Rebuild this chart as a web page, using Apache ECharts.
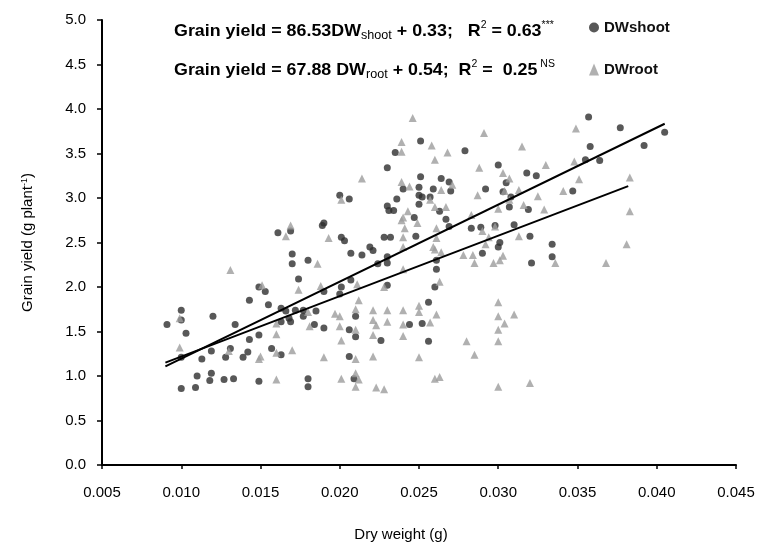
<!DOCTYPE html>
<html>
<head>
<meta charset="utf-8">
<script src="https://cdn.jsdelivr.net/npm/echarts@6/dist/echarts.min.js"></script>
<style>html,body{margin:0;padding:0;background:#fff;}#c{width:759px;height:550px;}</style>
</head>
<body>
<div id="c"></div>
<script>
// Tick values
const xTicks = [0.005, 0.010, 0.015, 0.020, 0.025, 0.030, 0.035, 0.040, 0.045];
const yTicks = [0.0, 0.5, 1.0, 1.5, 2.0, 2.5, 3.0, 3.5, 4.0, 4.5, 5.0];

// DW shoot vs grain yield
const shoot = [
[0.0091,1.58],[0.0100,1.74],[0.0100,1.63],[0.0103,1.48],[0.0100,1.21],[0.0120,1.67],[0.0134,1.58],[0.0113,1.19],[0.0119,1.28],[0.0128,1.21],[0.0139,1.21],[0.0142,1.27],[0.0143,1.41],[0.0143,1.85],[0.0149,2.00],[0.0149,1.46],[0.0149,0.94],[0.0110,1.00],[0.0100,0.86],[0.0109,0.87],[0.0119,1.03],[0.0118,0.95],[0.0127,0.96],[0.0133,0.97],[0.0131,1.31],
[0.0251,3.64],[0.0235,3.51],[0.0230,3.34],[0.0240,3.10],[0.0250,3.12],[0.0251,3.24],[0.0250,3.03],[0.0200,3.03],[0.0206,2.99],[0.0236,2.99],[0.0250,2.93],[0.0230,2.91],[0.0231,2.86],[0.0234,2.86],[0.0247,2.78],[0.0169,2.63],[0.0161,2.61],[0.0190,2.72],[0.0189,2.69],[0.0201,2.56],[0.0203,2.52],[0.0228,2.56],[0.0232,2.56],[0.0248,2.57],[0.0219,2.45],[0.0221,2.41],[0.0170,2.37],[0.0170,2.26],[0.0180,2.30],[0.0207,2.38],[0.0214,2.36],[0.0230,2.34],[0.0224,2.26],[0.0230,2.27],[0.0174,2.09],
[0.0357,3.91],[0.0377,3.79],[0.0405,3.74],[0.0279,3.53],[0.0358,3.58],[0.0392,3.59],[0.0300,3.37],[0.0355,3.43],[0.0364,3.42],[0.0318,3.28],[0.0324,3.25],[0.0264,3.22],[0.0269,3.18],[0.0259,3.10],[0.0270,3.08],[0.0292,3.10],[0.0305,3.17],[0.0303,3.07],[0.0347,3.08],[0.0252,3.01],[0.0257,3.01],[0.0308,3.01],[0.0263,2.85],[0.0267,2.76],[0.0307,2.90],[0.0319,2.87],[0.0269,2.68],[0.0283,2.66],[0.0289,2.67],[0.0298,2.69],[0.0310,2.70],[0.0320,2.57],[0.0301,2.50],[0.0300,2.45],[0.0334,2.48],[0.0334,2.34],[0.0290,2.38],[0.0321,2.27],[0.0261,2.30],[0.0261,2.20],
[0.0260,2.00],[0.0256,1.83],[0.0244,1.58],[0.0252,1.59],[0.0256,1.39],
[0.0153,1.95],[0.0190,1.95],[0.0201,2.00],[0.0200,1.92],[0.0207,2.08],[0.0230,2.02],[0.0155,1.80],[0.0163,1.76],[0.0166,1.73],[0.0168,1.65],[0.0169,1.61],[0.0163,1.61],[0.0172,1.74],[0.0177,1.67],[0.0177,1.74],[0.0185,1.73],[0.0184,1.58],[0.0190,1.54],[0.0210,1.67],[0.0206,1.52],[0.0210,1.44],[0.0226,1.40],[0.0157,1.31],[0.0163,1.24],[0.0206,1.22],[0.0180,0.97],[0.0180,0.88],[0.0209,0.97]
];

// DW root vs grain yield
const root = [
[0.0099,1.65],[0.0099,1.32],[0.0131,2.19],[0.0130,1.28],[0.0149,1.19],
[0.0246,3.90],[0.0239,3.63],[0.0239,3.52],[0.0214,3.22],[0.0239,3.18],[0.0244,3.13],[0.0201,2.98],[0.0243,2.85],[0.0240,2.78],[0.0239,2.75],[0.0249,2.72],[0.0169,2.69],[0.0166,2.57],[0.0193,2.55],[0.0240,2.56],[0.0240,2.45],[0.0186,2.26],[0.0240,2.20],
[0.0349,3.78],[0.0291,3.73],[0.0258,3.59],[0.0268,3.51],[0.0315,3.58],[0.0260,3.43],[0.0288,3.34],[0.0330,3.37],[0.0348,3.41],[0.0303,3.28],[0.0307,3.22],[0.0351,3.21],[0.0383,3.23],[0.0264,3.09],[0.0271,3.15],[0.0287,3.03],[0.0304,3.08],[0.0313,3.09],[0.0325,3.02],[0.0341,3.08],[0.0257,2.98],[0.0307,2.98],[0.0260,2.90],[0.0267,2.90],[0.0283,2.81],[0.0300,2.88],[0.0316,2.92],[0.0329,2.87],[0.0383,2.85],[0.0241,2.66],[0.0261,2.66],[0.0261,2.55],[0.0259,2.45],[0.0260,2.42],[0.0264,2.39],[0.0290,2.63],[0.0298,2.68],[0.0313,2.57],[0.0294,2.56],[0.0292,2.48],[0.0381,2.48],[0.0284,2.36],[0.0278,2.36],[0.0303,2.35],[0.0301,2.30],[0.0285,2.27],[0.0297,2.27],[0.0336,2.27],[0.0368,2.27],
[0.0263,2.06],[0.0240,1.74],[0.0250,1.79],[0.0250,1.72],[0.0261,1.69],[0.0300,1.83],[0.0300,1.67],[0.0310,1.69],[0.0304,1.59],[0.0300,1.52],[0.0300,1.39],[0.0240,1.58],[0.0257,1.60],[0.0240,1.45],[0.0280,1.39],[0.0285,1.24],[0.0250,1.21],[0.0260,0.97],[0.0263,0.99],[0.0300,0.88],[0.0320,0.92],
[0.0151,2.02],[0.0174,1.97],[0.0188,2.01],[0.0211,2.03],[0.0212,1.85],[0.0228,2.00],[0.0160,1.59],[0.0180,1.72],[0.0181,1.56],[0.0197,1.70],[0.0200,1.67],[0.0210,1.75],[0.0200,1.56],[0.0201,1.40],[0.0210,1.52],[0.0221,1.74],[0.0221,1.63],[0.0223,1.57],[0.0221,1.46],[0.0230,1.74],[0.0230,1.61],[0.0160,1.47],[0.0150,1.22],[0.0160,1.26],[0.0170,1.29],[0.0190,1.21],[0.0210,1.19],[0.0221,1.22],[0.0160,0.96],[0.0201,0.97],[0.0210,1.03],[0.0212,0.96],[0.0210,0.88],[0.0223,0.87],[0.0228,0.85]
];

// Trend line endpoints
const shootFit = [[0.0090,1.109],[0.0405,3.834]];
const rootFit = [[0.0090,1.151],[0.0382,3.133]];

const FONT = '"Liberation Sans", Arial, sans-serif';
const chart = echarts.init(document.getElementById('c'));

const eqRich = {
  n: {fontSize: 17, fontWeight: 'bold', fontFamily: FONT, color: '#111', lineHeight: 22},
  sub: {fontSize: 12, fontFamily: FONT, color: '#111', lineHeight: 22, verticalAlign: 'bottom', padding: [8,0,0,0]},
  sup: {fontSize: 10, fontFamily: FONT, color: '#111', lineHeight: 22, verticalAlign: 'top', padding: [0,0,6,0]}
};

chart.setOption({
  backgroundColor: '#fff',
  animation: false,
  grid: {left: 102, right: 23, top: 20, bottom: 85},
  xAxis: {
    type: 'value', min: xTicks[0], max: xTicks[xTicks.length-1], interval: 0.005,
    name: 'Dry weight (g)', nameLocation: 'middle', nameGap: 62,
    nameTextStyle: {fontFamily: FONT, fontSize: 15, color: '#000', padding: [0, 36, 0, 0]},
    axisLine: {show: true, lineStyle: {color: '#000', width: 2}},
    axisTick: {show: true, inside: false, length: 4, lineStyle: {color: '#000', width: 1.5}},
    axisLabel: {fontFamily: FONT, fontSize: 15, color: '#000', margin: 20, formatter: v => v.toFixed(3)},
    splitLine: {show: false}
  },
  yAxis: {
    type: 'value', min: yTicks[0], max: yTicks[yTicks.length-1], interval: 0.5,
    name: 'Grain yield (g plant{sup|-1})', nameLocation: 'middle', nameGap: 67, nameRotate: 90,
    nameTextStyle: {fontFamily: FONT, fontSize: 15, color: '#000',
      rich: {sup: {fontSize: 9, fontFamily: FONT, color: '#000', verticalAlign: 'top', padding: [0,0,5,0]}}},
    axisLine: {show: true, lineStyle: {color: '#000', width: 2}},
    axisTick: {show: true, inside: false, length: 5, lineStyle: {color: '#000', width: 1.5}},
    axisLabel: {fontFamily: FONT, fontSize: 15, color: '#000', margin: 16, formatter: v => v.toFixed(1)},
    splitLine: {show: false}
  },
  legend: {
    orient: 'vertical', left: 584, top: 15, itemWidth: 10, itemHeight: 12, itemGap: 27,
    textStyle: {fontFamily: FONT, fontSize: 15, color: '#111', fontWeight: 'bold'},
    data: ['DWshoot', 'DWroot']
  },
  graphic: [
    {type: 'text', left: 174, top: 20, scaleX: 1.05, style: {
      text: '{n|Grain yield = 86.53DW}{sub|shoot}{n| + 0.33;   R}{sup|2}{n| = 0.63}{sup|***}', rich: eqRich}},
    {type: 'text', left: 174, top: 59, scaleX: 1.05, style: {
      text: '{n|Grain yield = 67.88 DW}{sub|root}{n| + 0.54;  R}{sup|2}{n| =  0.25}{sup| NS}', rich: eqRich}}
  ],
  series: [
    {name: 'DWshoot', type: 'scatter', data: shoot, symbol: 'circle', symbolSize: 7,
      itemStyle: {color: '#2e2e2e'}, z: 2},
    {name: 'DWroot', type: 'scatter', data: root, symbol: 'triangle', symbolSize: 8,
      itemStyle: {color: '#9c9c9c'}, z: 3},
    {name: 'fitShoot', type: 'line', data: shootFit, symbol: 'none', lineStyle: {color: '#000', width: 2}, z: 4},
    {name: 'fitRoot', type: 'line', data: rootFit, symbol: 'none', lineStyle: {color: '#000', width: 2}, z: 4}
  ]
});
</script>
</body>
</html>
